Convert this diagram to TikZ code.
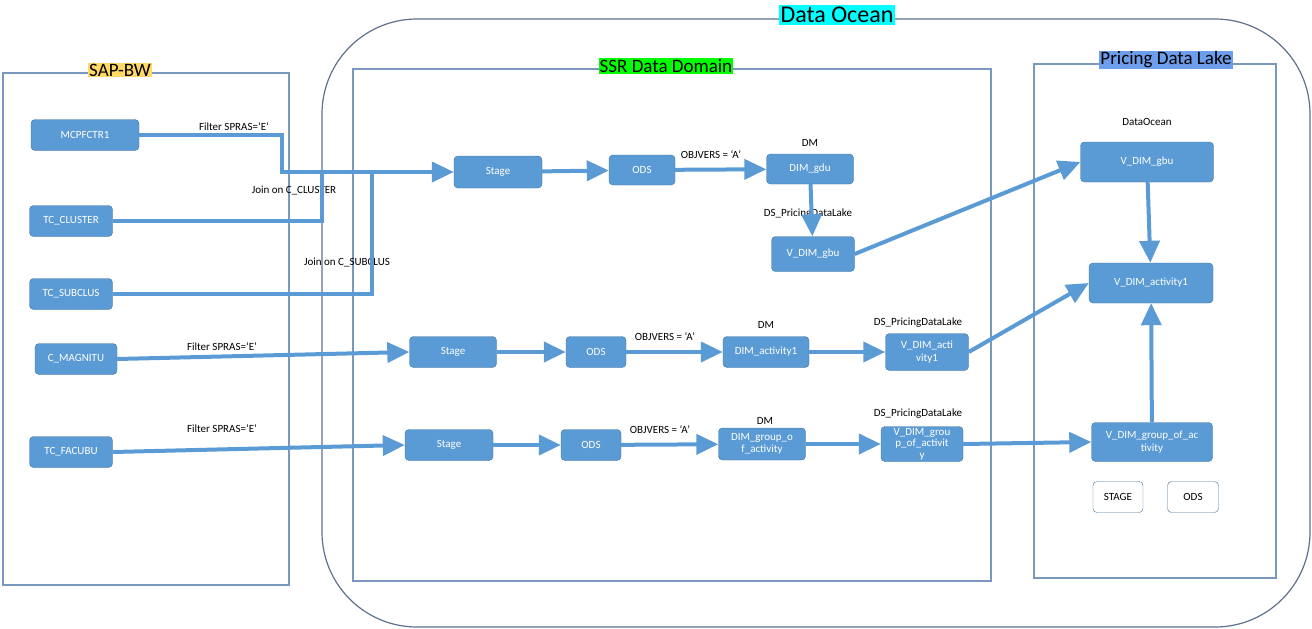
\documentclass[tikz,border=0pt]{standalone}
\usepackage{fontspec}
\setmainfont{Carlito}
\usetikzlibrary{arrows.meta}
\usepackage{xcolor}

\definecolor{boxblue}{RGB}{91,155,213}
\definecolor{boxedge}{RGB}{65,113,156}
\definecolor{framecol}{RGB}{122,152,190}
\definecolor{oceancol}{RGB}{96,112,138}
\definecolor{sapyellow}{RGB}{255,217,102}
\definecolor{lakeblue}{RGB}{109,158,235}
\definecolor{oceancyan}{RGB}{0,255,255}
\definecolor{ssrgreen}{RGB}{0,255,0}

\begin{document}
\begin{tikzpicture}[x=1pt,y=-1pt,
        tbl/.style={draw=boxedge,fill=boxblue,rounded corners=4pt,text=white,inner sep=0pt,
            minimum height=31pt,align=center,font=\fontsize{11}{12.5}\selectfont},
        legend/.style={draw=boxedge,fill=white,rounded corners=4pt,inner sep=0pt,
            minimum height=31pt,font=\fontsize{11}{12.5}\selectfont},
        note/.style={font=\fontsize{11}{13}\selectfont,inner sep=0pt},
        title/.style={inner sep=1pt,font=\fontsize{19}{21}\selectfont},
        frame/.style={draw=framecol,line width=1.2pt},
        flow/.style={draw=boxblue,line width=4pt,-{Triangle[length=22pt,width=20pt]}},
        joinline/.style={draw=boxblue,line width=4pt}]
        \useasboundingbox (0,0) rectangle (1312,629);

        % frames
        \draw[oceancol,line width=1.2pt,rounded corners=95pt] (322,19) rectangle (1310,627);
        \draw[frame] (3,73) rectangle (289,585);
        \draw[frame] (353,69) rectangle (991,581);
        \draw[frame] (1034,64) rectangle (1276,578);
        \node[fill=oceancyan,inner sep=2pt,font=\fontsize{24}{26}\selectfont] (ocean) at (837,15) {Data Ocean};
        \node[title,fill=sapyellow] (sapbw) at (120,70) {SAP-BW};
        \node[title,fill=ssrgreen] (ssr) at (666,66) {SSR Data Domain};
        \node[title,fill=lakeblue] (lake) at (1166,60) {Pricing Data Lake};

        % SAP-BW tables
        \node[tbl,minimum width=108pt] (mcp) at (85,135) {MCPFCTR1};
        \node[tbl,minimum width=83pt] (tccl) at (71,221) {TC\_CLUSTER};
        \node[tbl,minimum width=83pt] (tcsub) at (71,294) {TC\_SUBCLUS};
        \node[tbl,minimum width=82pt] (cmag) at (76,359) {C\_MAGNITU};
        \node[tbl,minimum width=83pt] (tcfac) at (71,452) {TC\_FACUBU};

        % ssr data domain
        \node[tbl,minimum width=88pt,minimum height=32pt] (stageA) at (498,172) {Stage};
        \node[tbl,minimum width=66pt,minimum height=30pt] (odsA) at (642,170) {ODS};
        \node[tbl,minimum width=87pt,minimum height=30pt] (dimgdu) at (810,169) {DIM\_gdu};
        \node[tbl,minimum width=83pt,minimum height=35pt] (vgbu) at (813,254) {V\_DIM\_gbu};

        \node[tbl,minimum width=87pt] (stageB) at (453,352) {Stage};
        \node[tbl,minimum width=60pt] (odsB) at (596,352) {ODS};
        \node[tbl,minimum width=86pt] (dimact) at (766,352) {DIM\_activity1};
        \node[tbl,minimum width=83pt,minimum height=37pt] (vact) at (927,352) {V\_DIM\_acti\\vity1};

        \node[tbl,minimum width=88pt] (stageC) at (449,445) {Stage};
        \node[tbl,minimum width=60pt] (odsC) at (591,445) {ODS};
        \node[tbl,minimum width=87pt,minimum height=32pt] (dimgrp) at (762,444) {DIM\_group\_o\\f\_activity};
        \node[tbl,minimum width=82pt,minimum height=35pt,font=\fontsize{11}{11.5}\selectfont] (vgrp) at (922,444) {V\_DIM\_grou\\p\_of\_activit\\y};

        % pricing data lake
        \node[note] (dolabel) at (1147,122) {DataOcean};
        \node[tbl,minimum width=133pt,minimum height=40pt] (lgbu) at (1147,162) {V\_DIM\_gbu};
        \node[tbl,minimum width=124pt,minimum height=40pt] (lact) at (1151,283) {V\_DIM\_activity1};
        \node[tbl,minimum width=121pt,minimum height=39pt] (lgrp) at (1152,442) {V\_DIM\_group\_of\_ac\\tivity};
        \node[legend,minimum width=50pt] (stagekey) at (1118,497) {STAGE};
        \node[legend,minimum width=51pt] (odskey) at (1193,497) {ODS};

        % labels
        \node[note] (f1) at (234,127) {Filter SPRAS=‘E’};
        \node[note] (f2) at (222,347) {Filter SPRAS=‘E’};
        \node[note] (f3) at (222,429) {Filter SPRAS=‘E’};
        \node[note] (j1) at (294,190) {Join on C\_CLUSTER};
        \node[note] (j2) at (347,262) {Join on C\_SUBCLUS};
        \node[note] (o1) at (711,155) {OBJVERS = ‘A’};
        \node[note] (o2) at (665,337) {OBJVERS = ‘A’};
        \node[note] (o3) at (660,430) {OBJVERS = ‘A’};
        \node[note] (dm1) at (810,143) {DM};
        \node[note] (dm2) at (766,325) {DM};
        \node[note] (dm3) at (765,421) {DM};
        \node[note] (ds1) at (808,214) {DS\_PricingDataLake};
        \node[note] (ds2) at (918,323) {DS\_PricingDataLake};
        \node[note] (ds3) at (918,414) {DS\_PricingDataLake};

        % joins
        \coordinate (bend) at (282,172);
        \coordinate (jcl) at (322,172);
        \coordinate (jsub) at (372,172);
        \draw[joinline] (tccl.east) -| (jcl);
        \draw[joinline] (tcsub.east) -| (jsub);
        \draw[flow] (mcp.east) -| (bend) -- (stageA.west);

        % flows
        \draw[flow] (stageA) -- (odsA);
        \draw[flow] (odsA) -- (dimgdu);
        \draw[flow] (dimgdu) -- (vgbu);
        \draw[flow] (cmag.east) -- (stageB.west);
        \draw[flow] (stageB) -- (odsB);
        \draw[flow] (odsB) -- (dimact);
        \draw[flow] (dimact) -- (vact);
        \draw[flow] (tcfac.east) -- (stageC.west);
        \draw[flow] (stageC) -- (odsC);
        \draw[flow] (odsC) -- (dimgrp);
        \draw[flow] (dimgrp) -- (vgrp);
        \draw[flow] (vgbu.east) -- (lgbu.west);
        \draw[flow] (vact.east) -- (lact.west);
        \draw[flow] (vgrp.east) -- (lgrp.west);
        \draw[flow] (lgbu) -- (lact);
        \draw[flow] (lgrp) -- (lact);

    \end{tikzpicture}
\end{document}
